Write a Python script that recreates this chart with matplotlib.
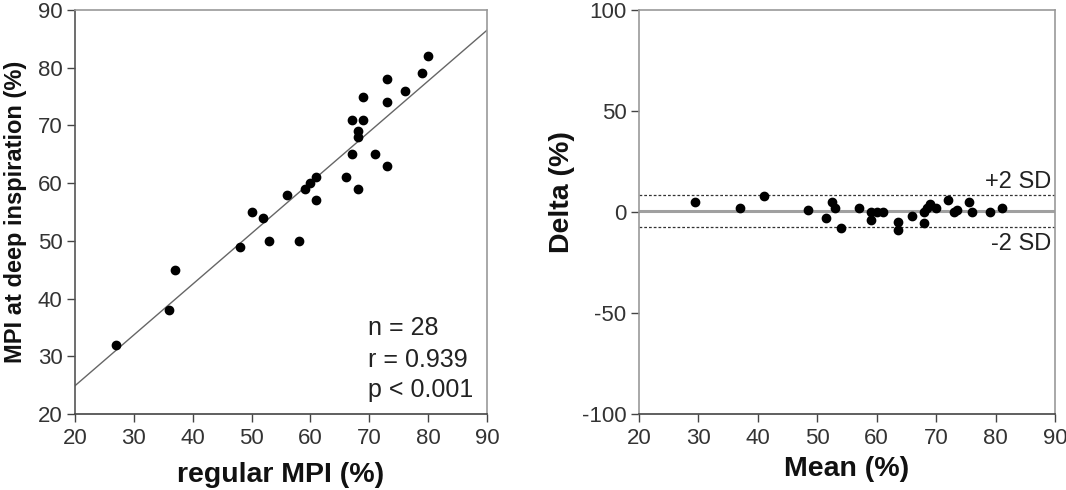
import matplotlib
matplotlib.use("Agg")
import matplotlib.pyplot as plt
import numpy as np

plt.rcParams['font.family'] = ['Liberation Sans', 'DejaVu Sans']
plt.rcParams['axes.unicode_minus'] = False

# ---- Data: left panel (regular MPI vs MPI at deep inspiration) ----
regular_mpi = [80, 79, 76, 73, 73, 69, 67, 69, 68, 68, 67, 71, 73, 66,
               68, 61, 60, 59, 61, 56, 50, 52, 48, 53, 58, 37, 36, 27]
deep_mpi = [82, 79, 76, 78, 74, 75, 71, 71, 69, 68, 65, 65, 63, 61,
            59, 61, 60, 59, 57, 58, 55, 54, 49, 50, 50, 45, 38, 32]
fit_slope = 0.88
fit_intercept = 7.3
stats_lines = ["n = 28", "r = 0.939", "p < 0.001"]

# ---- Data: right panel (Bland-Altman) ----
ba_mean = [29.5, 37, 41, 48.5, 51.5, 52.5, 53, 54, 57, 59, 59, 60, 61, 63.5,
           63.5, 66, 68, 68, 68.5, 69, 70, 72, 73, 73.5, 75.5, 76, 79, 81]
ba_delta = [5, 2, 8, 1, -3, 5, 2, -8, 2, -4, 0, 0, 0, -5,
            -9, -2, 0, -5.5, 2, 4, 2, 6, 0, 1, 5, 0, 0, 2]
mean_delta = 0.3
upper_sd = 8.5
lower_sd = -7.5

xticks = [20, 30, 40, 50, 60, 70, 80, 90]
left_yticks = [20, 30, 40, 50, 60, 70, 80, 90]
right_yticks = [-100, -50, 0, 50, 100]

W, H = 1066, 490
fig = plt.figure(figsize=(W / 100, H / 100), dpi=100)

ax1 = fig.add_axes([75 / W, (H - 414) / H, 412 / W, 404 / H])
ax2 = fig.add_axes([639 / W, (H - 414) / H, 416 / W, 404 / H])

tick_col = '#333333'
label_fs = 20.5
tick_fs = 16

def style(ax, left_col, other_col='#999999', bottom_col='#444444'):
    for s in ['top', 'right']:
        ax.spines[s].set_color(other_col)
        ax.spines[s].set_linewidth(1.2)
    ax.spines['left'].set_color(left_col)
    ax.spines['left'].set_linewidth(1.2)
    ax.spines['bottom'].set_color(bottom_col)
    ax.spines['bottom'].set_linewidth(1.2)
    ax.tick_params(axis='both', direction='out', length=5.5, width=1.0,
                   color='#444444', labelcolor=tick_col, labelsize=tick_fs)
    ax.tick_params(axis='x', pad=4.5)
    ax.tick_params(axis='y', pad=3.5)

# Left panel
ax1.plot(regular_mpi, deep_mpi, 'o', color='black', markersize=6, zorder=3)
fx = np.array([20, 90])
ax1.plot(fx, fit_slope * fx + fit_intercept, color='#666666', lw=1.0, zorder=2)
ax1.set_xlim(20, 90)
ax1.set_ylim(20, 90)
ax1.set_xticks(xticks)
ax1.set_yticks(left_yticks)
style(ax1, '#555555')
ax1.set_xlabel('regular MPI (%)', fontsize=label_fs, fontweight='bold', color='#111111')
ax1.set_ylabel('MPI at deep inspiration (%)', fontsize=17, fontweight='bold', color='#111111')
ax1.xaxis.set_label_coords(0.5, -0.12)
ax1.yaxis.set_label_coords(-0.117, 0.5)
for txt, yv in zip(stats_lines, [33.7, 28.2, 23.0]):
    ax1.text(69.8, yv, txt, fontsize=18, color='#222222', va='baseline', ha='left')

# Right panel
ax2.axhline(mean_delta, color='#a0a0a0', lw=2.2, zorder=1)
ax2.axhline(upper_sd, color='#333333', lw=0.9, ls=(0, (2.2, 1.6)), zorder=1)
ax2.axhline(lower_sd, color='#333333', lw=0.9, ls=(0, (2.2, 1.6)), zorder=1)
ax2.plot(ba_mean, ba_delta, 'o', color='black', markersize=6, zorder=3)
ax2.set_xlim(20, 90)
ax2.set_ylim(-100, 100)
ax2.set_xticks(xticks)
ax2.set_yticks(right_yticks)
style(ax2, '#999999')
ax2.set_xlabel('Mean (%)', fontsize=label_fs, fontweight='bold', color='#111111')
ax2.set_ylabel('Delta (%)', fontsize=label_fs, fontweight='bold', color='#111111')
ax2.xaxis.set_label_coords(0.5, -0.103)
ax2.yaxis.set_label_coords(-0.154, 0.55)
ax2.text(89.3, 12, '+2 SD', fontsize=17, color='#222222', ha='right', va='baseline')
ax2.text(89.3, -18.7, '-2 SD', fontsize=17, color='#222222', ha='right', va='baseline')

fig.savefig('out.png', dpi=100)
